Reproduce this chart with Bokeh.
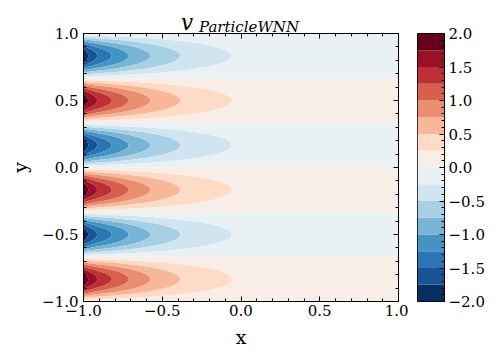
import numpy as np
from bokeh.plotting import figure
from bokeh.layouts import column, row
from bokeh.models import LinearAxis, FixedTicker, Range1d, Div
from bokeh.embed import file_html
from bokeh.resources import INLINE

# ---------------- data ----------------
levels = [-2.0, -1.75, -1.5, -1.25, -1.0, -0.75, -0.5, -0.25, 0.0,
          0.25, 0.5, 0.75, 1.0, 1.25, 1.5, 1.75, 2.0]
# amplitude of the field along x (where contour levels cross the band centres)
x_profile = [-1.0, -0.97, -0.913, -0.82, -0.714, -0.577, -0.386, -0.058, 1.0]
amp_profile = [1.98, 1.75, 1.5, 1.25, 1.0, 0.75, 0.5, 0.25, 0.03]
# y structure: alternating bands, zero lines at multiples of 1/3
y_wavenumber = 3.0
y_sign = -1.0
x_ticks = [-1.0, -0.5, 0.0, 0.5, 1.0]
x_tick_labels = ["\u22121.0", "\u22120.5", "0.0", "0.5", "1.0"]
y_ticks = [-1.0, -0.5, 0.0, 0.5, 1.0]
y_tick_labels = ["\u22121.0", "\u22120.5", "0.0", "0.5", "1.0"]
cb_ticks = [-2.0, -1.5, -1.0, -0.5, 0.0, 0.5, 1.0, 1.5, 2.0]
cb_tick_labels = ["\u22122.0", "\u22121.5", "\u22121.0", "\u22120.5", "0.0",
                  "0.5", "1.0", "1.5", "2.0"]
title_main = "v"
title_sub = "ParticleWNN"

# ---------------- field ----------------
xs = np.linspace(-1, 1, 500)
ys = np.linspace(-1, 1, 500)
amp = np.exp(np.interp(xs, x_profile, np.log(amp_profile)))
X, Y = np.meshgrid(xs, ys)
Z = y_sign * np.sin(np.pi * y_wavenumber * Y) * amp[None, :]

# RdBu_r palette sampled at 16 layers
rdbu = ["#67001f", "#b2182b", "#d6604d", "#f4a582", "#fddbc7", "#f7f7f7",
        "#d1e5f0", "#92c5de", "#4393c3", "#2166ac", "#053061"][::-1]
anch = np.array([[int(c[i:i + 2], 16) for i in (1, 3, 5)] for c in rdbu], float)
pos = np.linspace(0, 1, len(rdbu))
palette = []
for i in range(16):
    t = i / 15
    rgb = [np.interp(t, pos, anch[:, k]) for k in range(3)]
    palette.append("#%02x%02x%02x" % tuple(int(round(v)) for v in rgb))

FONT = "DejaVu Serif"
FW, FH = 315, 268
LEFT = 83
TITLE_H = 22
TOPB = 11

# ---------------- title (HTML text, v with subscript) ----------------
title_html = (
    '<div style="position:relative;width:500px;height:%dpx;overflow:visible;">'
    '<div style="position:absolute;left:181px;top:11.5px;white-space:nowrap;'
    'font-family:\'DejaVu Serif\';font-style:italic;font-size:21.5px;'
    'line-height:1;color:black;">%s</div>'
    '<div style="position:absolute;left:199px;top:19.8px;white-space:nowrap;'
    'font-family:\'DejaVu Serif\';font-style:italic;font-size:15px;'
    'line-height:1;color:black;">%s</div>'
    '</div>' % (TITLE_H, title_main, title_sub))
tdiv = Div(text=title_html, width=500, height=TITLE_H, margin=(0, 0, 0, 0),
           styles={"overflow": "visible", "z-index": "10"})

# ---------------- main contour plot ----------------
p = figure(title=None, frame_width=FW, frame_height=FH, output_backend="svg",
           toolbar_location=None, x_range=Range1d(-1, 1), y_range=Range1d(-1, 1),
           min_border_left=LEFT, min_border_top=TOPB, min_border_bottom=52,
           min_border_right=10)
p.grid.visible = False
p.outline_line_color = "black"
p.background_fill_color = "white"
p.border_fill_color = None

p.contour(xs, ys, Z, levels, fill_color=palette, line_color=None)

def style_axis(ax, labels=True):
    ax.axis_line_color = "black"
    ax.major_tick_in = 5
    ax.major_tick_out = 0
    ax.minor_tick_in = 3
    ax.minor_tick_out = 0
    ax.major_tick_line_color = "black"
    ax.minor_tick_line_color = "black"
    ax.major_label_text_font = FONT
    ax.major_label_text_font_size = "15px"
    ax.major_label_text_color = "black"
    if not labels:
        ax.major_label_text_font_size = "1px"
        ax.major_label_standoff = 0

minor = [round(-1 + 0.1 * i, 2) for i in range(21)]

p.xaxis.ticker = FixedTicker(ticks=x_ticks, minor_ticks=minor)
p.yaxis.ticker = FixedTicker(ticks=y_ticks, minor_ticks=minor)
p.xaxis.major_label_overrides = dict(zip(x_ticks, x_tick_labels))
p.yaxis.major_label_overrides = dict(zip(y_ticks, y_tick_labels))
style_axis(p.xaxis[0])
style_axis(p.yaxis[0])
p.xaxis.major_label_standoff = 3
p.yaxis.major_label_standoff = 5
p.xaxis.axis_label = "x"
p.yaxis.axis_label = "y"
for ax in (p.xaxis[0], p.yaxis[0]):
    ax.axis_label_text_font = FONT
    ax.axis_label_text_font_style = "normal"
    ax.axis_label_text_font_size = "19px"
    ax.axis_label_text_color = "black"
p.xaxis.axis_label_standoff = 7
p.yaxis.axis_label_standoff = 8

top = LinearAxis(ticker=FixedTicker(ticks=x_ticks, minor_ticks=minor),
                 major_label_overrides={t: "" for t in x_ticks})
style_axis(top, labels=False)
p.add_layout(top, "above")
right = LinearAxis(ticker=FixedTicker(ticks=y_ticks, minor_ticks=minor),
                   major_label_overrides={t: "" for t in y_ticks})
style_axis(right, labels=False)
p.add_layout(right, "right")

# ---------------- colour bar ----------------
cbf = figure(title=None, frame_width=27, frame_height=FH, output_backend="svg",
             toolbar_location=None, x_range=Range1d(0, 1), y_range=Range1d(-2, 2),
             x_axis_location=None, y_axis_location="right",
             min_border_left=9, min_border_right=56, min_border_top=TOPB,
             min_border_bottom=52)
cbf.grid.visible = False
cbf.outline_line_color = "black"
cbf.border_fill_color = None
cbf.quad(left=0, right=1, bottom=levels[:-1], top=levels[1:], fill_color=palette,
         line_color=None)
cb_minor = [round(-2 + 0.1 * i, 2) for i in range(41)]
cbf.yaxis.ticker = FixedTicker(ticks=cb_ticks, minor_ticks=cb_minor)
cbf.yaxis.major_label_overrides = dict(zip(cb_ticks, cb_tick_labels))
style_axis(cbf.yaxis[0])
cbf.yaxis.major_label_standoff = 4

layout = column(tdiv, row(p, cbf, spacing=0), spacing=0)

open("out.html", "w").write(file_html(layout, INLINE))
